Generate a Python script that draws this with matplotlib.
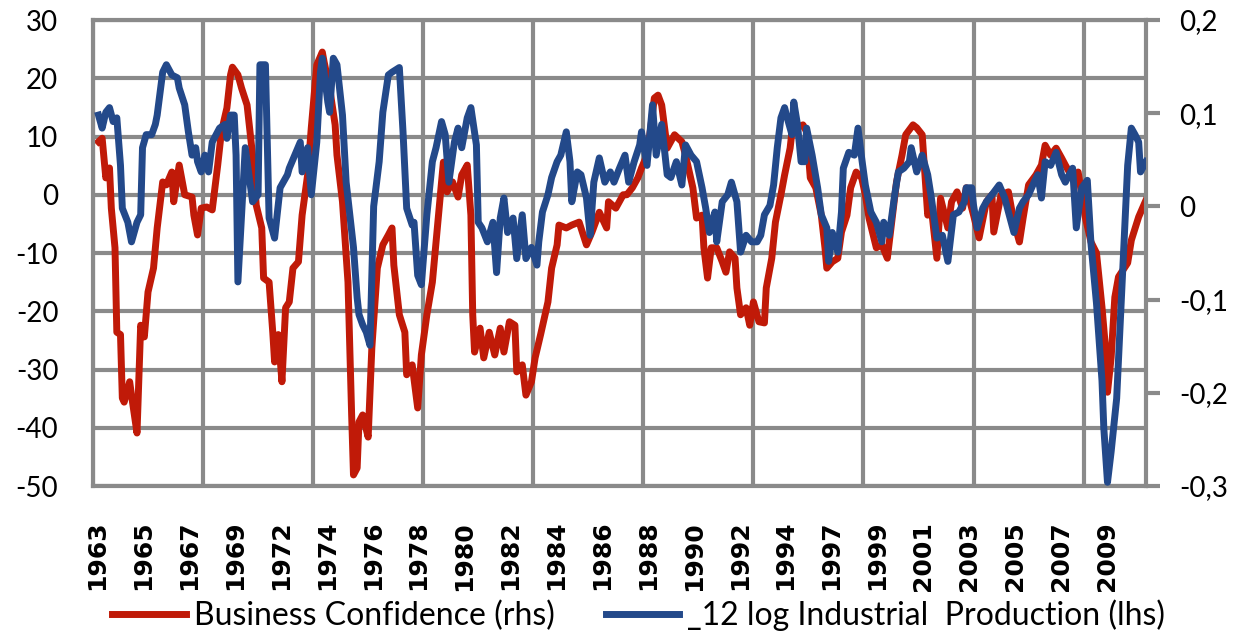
import numpy as np
import matplotlib
matplotlib.use("Agg")
import matplotlib.pyplot as plt

# x = months counted from the start of 1963
bc_month = [3, 5, 7, 9, 10, 12, 13, 15, 16, 17,
            20, 21, 24, 26, 28, 30, 33, 35, 38, 40,
            43, 44, 47, 50, 54, 55, 57, 59, 62, 65,
            68, 70, 73, 75, 76, 79, 81, 84, 87, 89,
            92, 93, 96, 98, 99, 101, 103, 105, 107, 109,
            112, 114, 117, 119, 122, 125, 126, 129, 132, 133,
            136, 139, 141, 142, 144, 145, 147, 150, 152, 155,
            158, 161, 163, 164, 167, 170, 171, 174, 177, 179,
            182, 185, 187, 190, 191, 193, 196, 199, 201, 204,
            206, 207, 208, 211, 213, 216, 219, 222, 224, 227,
            230, 231, 234, 236, 239, 241, 244, 248, 250, 253,
            254, 258, 261, 265, 269, 272, 276, 280, 281, 285,
            289, 291, 294, 297, 299, 302, 304, 306, 308, 310,
            313, 317, 321, 323, 327, 329, 332, 333, 335, 337,
            340, 343, 345, 347, 350, 351, 353, 356, 358, 360,
            363, 366, 367, 370, 372, 375, 377, 380, 381, 384,
            387, 389, 391, 394, 397, 399, 400, 403, 406, 408,
            411, 413, 416, 419, 421, 423, 427, 430, 433, 435,
            438, 441, 443, 447, 449, 452, 455, 457, 460, 462,
            466, 468, 471, 474, 476, 480, 483, 487, 490, 491,
            495, 499, 502, 505, 507, 510, 514, 517, 519, 522,
            525, 528, 530, 534, 537, 541, 544, 547, 550, 552,
            553, 555, 557, 559, 564, 566, 570, 574]
bc_value = [9.1, 9.7, 2.9, 4.6, -2.3, -9.1, -23.6, -24, -34.9, -35.6,
            -32.1, -34.4, -40.9, -22.4, -24.4, -16.7, -12.6, -5.7, 2.2, 1.7,
            3.9, -1.2, 5.1, 0, -0.4, -3.5, -6.9, -2.3, -2.1, -2.6,
            5.1, 10.8, 14.9, 20.6, 21.9, 20.6, 18.3, 15.4, 6.8, -1.8,
            -5.7, -14.3, -15, -23.6, -28.7, -24, -32.1, -19.4, -18.4, -12.6,
            -11.5, -3.5, 3.4, 11.5, 22.3, 24.5, 22.8, 18.3, 12, 6.8,
            -1.2, -15, -37.8, -48.1, -46.9, -39, -37.8, -41.6, -26.3, -12.6,
            -8.6, -6.9, -5.7, -12.1, -20.6, -23.6, -30.9, -29.2, -36.6, -27.5,
            -20.6, -15, -8.1, 2.2, 5.6, 0.5, 2.2, -0.4, 3.4, 5.1,
            -3.5, -20.6, -27, -22.9, -28, -23.6, -27.5, -22.9, -27, -21.8,
            -22.4, -30.4, -29.2, -34.4, -32.1, -28, -24, -18.4, -12.6, -8.6,
            -5.2, -5.7, -5.2, -4.7, -8.6, -6.4, -3, -5.7, -1.2, -2.3,
            0, 0, 1.2, 2.9, 4.6, 6.8, 11.5, 16.6, 17.1, 15.4,
            8, 10.3, 9.1, 6.8, 1.2, -4, -3.5, -9.1, -14.3, -9.1,
            -9.1, -11.5, -13.3, -9.8, -10.9, -16, -20.6, -19.4, -22.4, -18.4,
            -21.8, -22, -16, -10.9, -4.7, 0, 3.4, 8, 10.8, 11.5,
            12, 10.8, 2.9, 1.2, -3.5, -9.1, -12.6, -11.5, -10.9, -6.4,
            -3.5, 1.2, 3.9, 2.9, 0, -4, -9.1, -8.6, -10.9, -5.7,
            2.2, 6.8, 10.3, 12, 11.5, 10.3, -3.5, -2.3, -10.9, -0.6,
            -5.7, -1.2, 0.5, -2.3, 1.2, -3.5, -7.4, -1.2, 0, -6.4,
            0, 0.5, -4.7, -8.1, -4, 1.7, 3.4, 5.1, 8.5, 6.8,
            8, 6.3, 5.1, 2.9, 3.9, -4, -8.1, -10, -19.3, -26.6,
            -33.9, -27.9, -17.6, -14.1, -11.7, -7.8, -3.8, -0.9]

ip_month = [3, 5, 7, 9, 11, 13, 15, 16, 19, 21,
            24, 26, 27, 29, 32, 34, 35, 38, 40, 43,
            46, 47, 50, 52, 54, 56, 57, 59, 61, 63,
            65, 69, 72, 73, 75, 77, 78, 79, 83, 87,
            90, 91, 94, 96, 99, 102, 106, 107, 110, 113,
            114, 117, 119, 122, 124, 125, 128, 129, 131, 133,
            136, 138, 142, 144, 145, 147, 149, 151, 153, 156,
            158, 161, 163, 167, 169, 171, 174, 175, 177, 179,
            182, 185, 187, 190, 192, 194, 197, 199, 201, 204,
            206, 209, 210, 212, 215, 218, 220, 222, 224, 226,
            229, 231, 234, 236, 239, 242, 243, 245, 248, 250,
            253, 255, 258, 260, 261, 264, 266, 269, 271, 273,
            276, 279, 282, 284, 287, 290, 292, 295, 298, 299,
            302, 305, 307, 310, 313, 315, 318, 321, 323, 326,
            329, 332, 334, 336, 339, 340, 343, 346, 348, 351,
            353, 356, 359, 362, 364, 366, 369, 371, 373, 375,
            377, 378, 381, 382, 384, 386, 388, 389, 392, 395,
            397, 400, 401, 403, 406, 408, 409, 412, 415, 417,
            419, 421, 424, 427, 430, 431, 434, 437, 439, 442,
            445, 446, 449, 452, 455, 457, 460, 463, 466, 469,
            472, 475, 476, 479, 480, 482, 485, 487, 490, 494,
            497, 499, 502, 505, 507, 510, 513, 515, 517, 519,
            522, 525, 528, 530, 534, 536, 539, 542, 544, 547,
            550, 551, 553, 555, 558, 561, 564, 566, 568, 570,
            571, 574]
ip_value = [0.098, 0.084, 0.101, 0.106, 0.091, 0.095, 0.044, -0.002, -0.017, -0.038,
            -0.017, -0.009, 0.063, 0.077, 0.077, 0.088, 0.098, 0.144, 0.152, 0.141,
            0.138, 0.127, 0.109, 0.080, 0.055, 0.063, 0.048, 0.037, 0.055, 0.037,
            0.069, 0.084, 0.088, 0.073, 0.098, 0.098, 0.055, -0.081, 0.063, 0.005,
            0.0125, 0.152, 0.152, -0.0125, -0.034, 0.020, 0.034, 0.041, 0.055, 0.069,
            0.037, 0.063, 0.0125, 0.069, 0.144, 0.159, 0.112, 0.101, 0.159, 0.152,
            0.098, 0.026, -0.044, -0.098, -0.116, -0.127, -0.135, -0.149, 0.0, 0.048,
            0.101, 0.141, 0.144, 0.149, 0.080, -0.002, -0.020, -0.017, -0.074, -0.084,
            -0.009, 0.048, 0.063, 0.091, 0.077, 0.026, 0.069, 0.084, 0.063, 0.095,
            0.106, 0.066, -0.017, -0.023, -0.038, -0.017, -0.071, -0.0125, 0.009, -0.028,
            -0.0125, -0.056, -0.009, -0.056, -0.044, -0.063, -0.038, -0.006, 0.0125, 0.031,
            0.048, 0.055, 0.080, 0.048, 0.005, 0.037, 0.034, 0.009, -0.031, 0.026,
            0.052, 0.026, 0.037, 0.026, 0.041, 0.055, 0.026, 0.048, 0.066, 0.080,
            0.044, 0.109, 0.055, 0.088, 0.034, 0.031, 0.048, 0.023, 0.066, 0.055,
            0.048, 0.020, -0.002, -0.028, -0.006, -0.038, 0.005, 0.0125, 0.026, 0.005,
            -0.049, -0.031, -0.038, -0.038, -0.031, -0.009, 0.001, 0.023, 0.063, 0.095,
            0.106, 0.098, 0.077, 0.112, 0.088, 0.048, 0.048, 0.084, 0.055, 0.020,
            -0.009, -0.023, -0.059, -0.028, -0.049, -0.006, 0.041, 0.058, 0.055, 0.084,
            0.052, 0.023, -0.006, -0.017, -0.038, -0.017, -0.031, 0.0125, 0.037, 0.041,
            0.048, 0.063, 0.037, 0.055, 0.034, 0.009, -0.034, -0.031, -0.059, -0.009,
            -0.006, 0.005, 0.020, 0.020, 0.001, -0.023, -0.002, 0.005, 0.0125, 0.023,
            0.009, -0.006, -0.028, -0.002, 0.005, 0.0125, 0.026, 0.034, 0.009, 0.048,
            0.044, 0.058, 0.034, 0.026, 0.041, -0.023, 0.020, 0.028, -0.040, -0.104,
            -0.187, -0.238, -0.296, -0.263, -0.206, -0.081, 0.044, 0.084, 0.077, 0.069,
            0.037, 0.048]

year_labels = ['1963', '1965', '1967', '1969', '1972', '1974', '1976', '1978',
               '1980', '1982', '1984', '1986', '1988', '1990', '1992', '1994',
               '1997', '1999', '2001', '2003', '2005', '2007', '2009']
left_ticks = [30, 20, 10, 0, -10, -20, -30, -40, -50]
left_labels = ['30', '20', '10', '0', '-10', '-20', '-30', '-40', '-50']
right_ticks = [0.2, 0.1, 0.0, -0.1, -0.2, -0.3]
right_labels = ['0,2', '0,1', '0', '-0,1', '-0,2', '-0,3']
legend_labels = ['Business Confidence (rhs)', '_12 log Industrial  Production (lhs)']

red = '#C01A08'
blue = '#23498A'
grey = '#8A8A8A'

plt.rcParams['font.family'] = ['Lato', 'DejaVu Sans']

fig, ax = plt.subplots(figsize=(12.38, 6.35), dpi=100)
fig.subplots_adjust(left=0.0751, right=0.9257, top=0.9685, bottom=0.2346)
ax2 = ax.twinx()

l1, = ax.plot(bc_month, bc_value, color=red, lw=5, solid_joinstyle='round')
l2, = ax2.plot(ip_month, ip_value, color=blue, lw=5, solid_joinstyle='round')

ax.set_xlim(0, 574)
ax.set_ylim(-50, 30)
ax2.set_ylim(-0.3, 0.2)

# gridlines every 60 months, year labels every 25 months
ax.set_xticks(np.arange(0, 574, 60))
ax.set_xticklabels([])
ax.set_xticks(np.arange(len(year_labels)) * 25 + 2.5, minor=True)
ax.set_xticklabels(year_labels, minor=True, rotation=90, fontsize=18,
                   fontweight='bold', family='DejaVu Sans')
ax.tick_params(axis='x', which='both', length=0)
ax.tick_params(axis='x', which='minor', pad=25)

ax.set_yticks(left_ticks)
ax.set_yticklabels(left_labels, fontsize=20)
ax.tick_params(axis='y', length=0, pad=25)

ax2.set_yticks(right_ticks)
ax2.set_yticklabels(right_labels, fontsize=20)
ax2.tick_params(axis='y', length=10, width=3, color=grey, pad=14)

ax.grid(True, which='major', color=grey, lw=3)
ax.set_axisbelow(True)
for s in ax.spines.values():
    s.set_color(grey)
    s.set_linewidth(3)
for s in ax2.spines.values():
    s.set_visible(False)

leg = fig.legend([l1, l2], ['a', 'b'], loc='center', bbox_to_anchor=(0.516, 0.031),
                 ncol=2, frameon=False, fontsize=23, handlelength=2.3,
                 handletextpad=0.25, columnspacing=1.6)
for t, lab in zip(leg.get_texts(), legend_labels):
    t.set_text(lab)

fig.savefig('out.png', dpi=100)
